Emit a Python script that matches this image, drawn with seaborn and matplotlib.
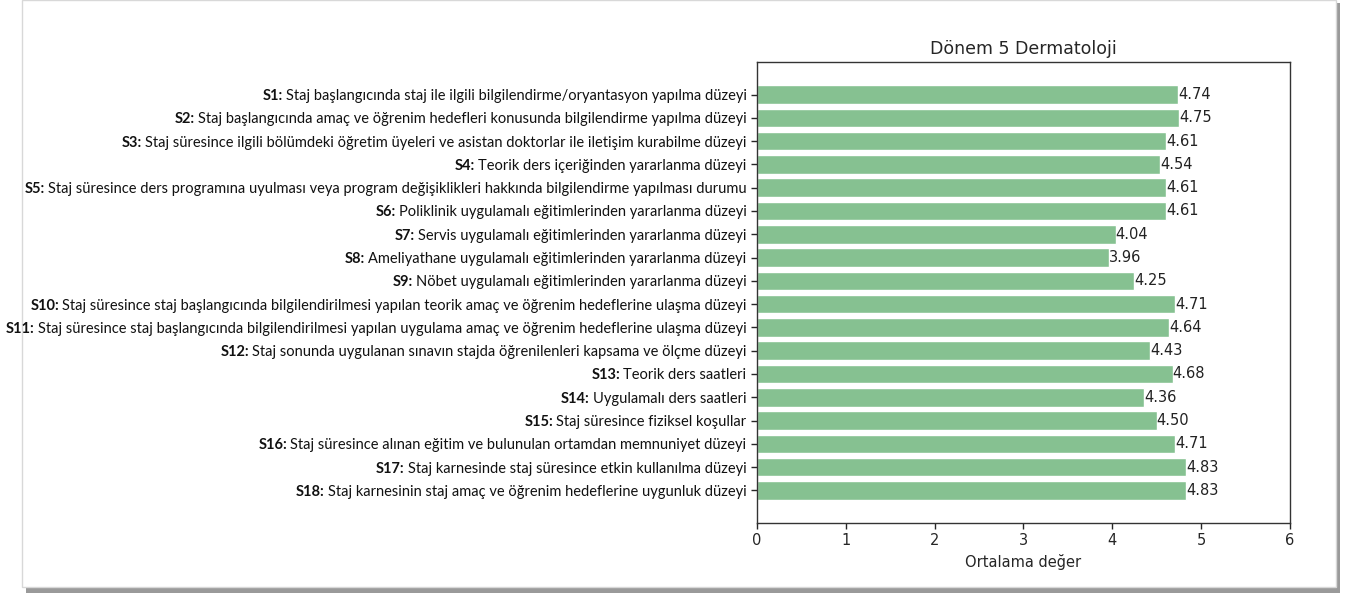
import numpy as np
import pandas as pd
import seaborn as sns
import matplotlib.pyplot as plt
from matplotlib.patches import Rectangle

# soru kodlari, metinleri ve ortalama degerler
codes = ["S1:", "S2:", "S3:", "S4:", "S5:", "S6:", "S7:", "S8:", "S9:",
         "S10:", "S11:", "S12:", "S13:", "S14:", "S15:", "S16:", "S17:", "S18:"]
questions = [
    "Staj başlangıcında staj ile ilgili bilgilendirme/oryantasyon yapılma düzeyi",
    "Staj başlangıcında amaç ve öğrenim hedefleri konusunda bilgilendirme yapılma düzeyi",
    "Staj süresince ilgili bölümdeki öğretim üyeleri ve asistan doktorlar ile iletişim kurabilme düzeyi",
    "Teorik ders içeriğinden yararlanma düzeyi",
    "Staj süresince ders programına uyulması veya program değişiklikleri hakkında bilgilendirme yapılması durumu",
    "Poliklinik uygulamalı eğitimlerinden yararlanma düzeyi",
    "Servis uygulamalı eğitimlerinden yararlanma düzeyi",
    "Ameliyathane uygulamalı eğitimlerinden yararlanma düzeyi",
    "Nöbet uygulamalı eğitimlerinden yararlanma düzeyi",
    "Staj süresince staj başlangıcında bilgilendirilmesi yapılan teorik amaç ve öğrenim hedeflerine ulaşma düzeyi",
    "Staj süresince staj başlangıcında bilgilendirilmesi yapılan uygulama amaç ve öğrenim hedeflerine ulaşma düzeyi",
    "Staj sonunda uygulanan sınavın stajda öğrenilenleri kapsama ve ölçme düzeyi",
    "Teorik ders saatleri",
    "Uygulamalı ders saatleri",
    "Staj süresince fiziksel koşullar",
    "Staj süresince alınan eğitim ve bulunulan ortamdan memnuniyet düzeyi",
    "Staj karnesinde staj süresince etkin kullanılma düzeyi",
    "Staj karnesinin staj amaç ve öğrenim hedeflerine uygunluk düzeyi",
]
means = [4.74, 4.75, 4.61, 4.54, 4.61, 4.61, 4.04, 3.96, 4.25,
         4.71, 4.64, 4.43, 4.68, 4.36, 4.50, 4.71, 4.83, 4.83]
x_ticks = [0, 1, 2, 3, 4, 5, 6]

df = pd.DataFrame({"code": codes, "question": questions, "mean": means})

sns.set_style("white")
plt.rcParams["font.family"] = ["DejaVu Sans"]

fig = plt.figure(figsize=(13.45, 5.96), dpi=100)

# cerceve ve golge
fig.patches.append(Rectangle((0.019, 0.005), 0.977, 0.99, transform=fig.transFigure,
                             facecolor="#9a9a9a", edgecolor="none", zorder=-3))
fig.patches.append(Rectangle((0.016, 0.015), 0.977, 0.985, transform=fig.transFigure,
                             facecolor="white", edgecolor="#d8d8d8", lw=1, zorder=-2))

ax = fig.add_axes([0.5628, 0.1225, 0.3962, 0.7735])
sns.barplot(data=df, y="code", x="mean", orient="h", color="#86c191",
            saturation=1, width=0.8, ax=ax)

for i, v in enumerate(means):
    ax.text(v, i, f"{v:.2f}", va="center", ha="left", fontsize=10.5, color="#222222")

ax.set_xlim(0, 6)
ax.set_ylim(len(means) - 1 + 1.4, -1.4)
ax.set_xticks(x_ticks)
ax.tick_params(axis="x", labelsize=10.5, length=4, width=1, direction="out", bottom=True)
ax.tick_params(axis="y", length=4, width=1, direction="out", left=True)
ax.set_xlabel("Ortalama değer", fontsize=10.5)
ax.set_ylabel("")
ax.set_title("Dönem 5 Dermatoloji", fontsize=12.5)
for s in ax.spines.values():
    s.set_visible(True)
    s.set_color("#333333")
    s.set_linewidth(1)

# etiketler: kalin kod + normal metin
ax.set_yticklabels(questions, fontsize=10.5, family="Lato", color="#111111")
fig.canvas.draw()
r = fig.canvas.get_renderer()
for lab, c in zip(ax.get_yticklabels(), codes):
    bb = lab.get_window_extent(r)
    y = (bb.y0 + bb.y1) / 2
    fig.text(bb.x0 - 3, y, c, ha="right", va="center", fontsize=10.5, family="Lato",
             weight="bold", color="#111111", transform=None)

fig.savefig("out.png", dpi=100)
